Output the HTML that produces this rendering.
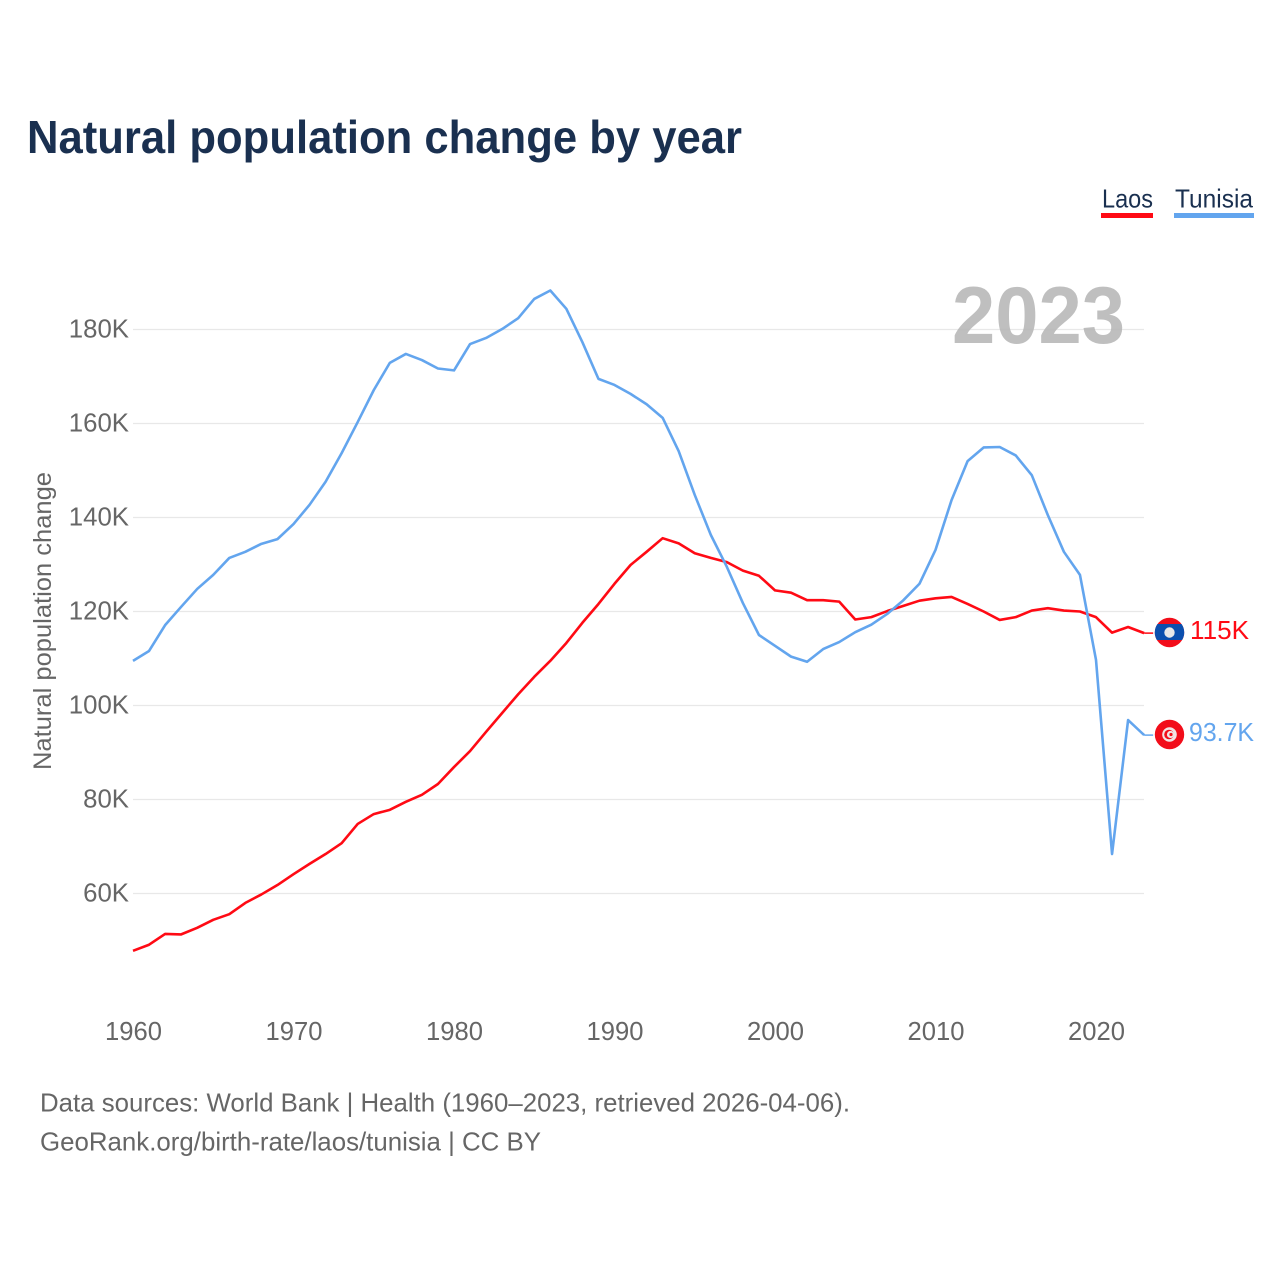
<!DOCTYPE html>
<html lang="en">
<head>
<meta charset="utf-8">
<title>Natural population change by year</title>
<style>
html,body{margin:0;padding:0;background:#fff;}
svg{display:block;}
text{font-family:"Liberation Sans",sans-serif;}
</style>
</head>
<body>
<svg id="chart" width="1280" height="1280" viewBox="0 0 1280 1280" xmlns="http://www.w3.org/2000/svg">
  <rect x="0" y="0" width="1280" height="1280" fill="#ffffff"/>
  <text x="27" y="153" font-size="46.5" font-weight="700" fill="#1a3050" textLength="715" lengthAdjust="spacingAndGlyphs">Natural population change by year</text>

  <g>
    <g>
      <text x="1102" y="207.5" font-size="26" fill="#1a3050" textLength="51" lengthAdjust="spacingAndGlyphs">Laos</text>
      <rect x="1101" y="213" width="52" height="5" fill="#ff0a14"/>
    </g>
    <g>
      <text x="1175" y="207.5" font-size="26" fill="#1a3050" textLength="78" lengthAdjust="spacingAndGlyphs">Tunisia</text>
      <rect x="1174" y="213" width="80" height="5" fill="#63a5ee"/>
    </g>
  </g>

  <g id="y-grid"></g>
  <g id="y-labels"></g>
  <g id="x-labels"></g>

  <text transform="translate(51 770) rotate(-90)" x="0" y="0" font-size="25" fill="#666666" textLength="298" lengthAdjust="spacingAndGlyphs">Natural population change</text>

  <text x="952" y="343" font-size="81" font-weight="700" fill="#b4b4b4" fill-opacity="0.85" textLength="173" lengthAdjust="spacingAndGlyphs">2023</text>

  <g id="series"></g>

  <g id="flag-laos">
    <circle cx="1169.5" cy="632.5" r="14.7" fill="#f20d1a"/>
    <path d="M1157.5 624 H1181.5 A14.7 14.7 0 0 1 1182.15 640 H1156.85 A14.7 14.7 0 0 1 1157.5 624 Z" fill="#0b4fae"/>
    <circle cx="1169.5" cy="632.5" r="5.2" fill="#e8e8e8"/>
  </g>
  <g id="flag-tunisia">
    <circle cx="1169.5" cy="734.5" r="14.7" fill="#f20d1a"/>
    <circle cx="1169.5" cy="734.5" r="7.3" fill="#f2e4e4"/>
    <circle cx="1169" cy="734.5" r="4.8" fill="#f20d1a"/>
    <circle cx="1170.5" cy="734.5" r="3.6" fill="#f2e4e4"/>
    <circle cx="1171" cy="734.5" r="1.6" fill="#f20d1a"/>
  </g>

  <text id="end-label-laos" x="1190" y="639" font-size="25.5" fill="#ff0a14" textLength="59" lengthAdjust="spacingAndGlyphs">115K</text>
  <text id="end-label-tunisia" x="1189" y="741" font-size="25.5" fill="#63a5ee" textLength="65" lengthAdjust="spacingAndGlyphs">93.7K</text>

  <text x="40" y="1111.5" font-size="26" fill="#666666" textLength="810" lengthAdjust="spacingAndGlyphs">Data sources: World Bank | Health (1960–2023, retrieved 2026-04-06).</text>
  <text x="40" y="1150.5" font-size="26" fill="#666666" textLength="501" lengthAdjust="spacingAndGlyphs">GeoRank.org/birth-rate/laos/tunisia | CC BY</text>
</svg>

<script>
var startYear = 1960;
var yTicks = [60, 80, 100, 120, 140, 160, 180];
var yTickLabels = ["60K", "80K", "100K", "120K", "140K", "160K", "180K"];
var xTicks = [1960, 1970, 1980, 1990, 2000, 2010, 2020];
var xTickLabels = ["1960", "1970", "1980", "1990", "2000", "2010", "2020"];
var laosValues = [47.8, 49.1, 51.4, 51.3, 52.7, 54.4, 55.6, 58.0, 59.8, 61.8,
  64.1, 66.3, 68.4, 70.7, 74.8, 76.9, 77.8, 79.5, 81.0, 83.3,
  86.9, 90.3, 94.4, 98.4, 102.4, 106.1, 109.5, 113.3, 117.6, 121.6,
  125.9, 129.9, 132.7, 135.6, 134.5, 132.4, 131.4, 130.5, 128.7, 127.6,
  124.5, 124.0, 122.4, 122.4, 122.1, 118.3, 118.8, 120.1, 121.2, 122.3,
  122.8, 123.1, 121.6, 120.0, 118.2, 118.8, 120.2, 120.7, 120.2, 120.0,
  118.8, 115.5, 116.7, 115.4];
var tunisiaValues = [109.5, 111.6, 117.1, 121.0, 124.8, 127.8, 131.4, 132.7, 134.4, 135.4,
  138.6, 142.7, 147.6, 153.7, 160.3, 167.1, 172.9, 174.8, 173.5, 171.7,
  171.3, 176.9, 178.2, 180.1, 182.4, 186.5, 188.3, 184.4, 177.3, 169.5,
  168.2, 166.3, 164.1, 161.2, 154.1, 144.8, 136.3, 129.5, 121.8, 115.0,
  112.7, 110.4, 109.3, 112.0, 113.5, 115.6, 117.2, 119.5, 122.4, 125.9,
  133.1, 143.7, 152.0, 154.9, 155.0, 153.2, 149.0, 140.5, 132.7, 127.8,
  109.7, 68.4, 96.9, 93.7];

var NS = "http://www.w3.org/2000/svg";
function xScale(year) { return 133 + (year - 1960) * 16.05; }
function yScale(value) { return 893.5 - (value - 60) * 4.7; }
function svgEl(tag) { return document.createElementNS(NS, tag); }

var gridGroup = document.getElementById("y-grid");
var yLabelGroup = document.getElementById("y-labels");
yTicks.forEach(function (tick, i) {
  var line = svgEl("line");
  
  
  line.setAttribute("x1", 133);
  line.setAttribute("x2", 1144);
  line.setAttribute("y1", yScale(tick));
  line.setAttribute("y2", yScale(tick));
  line.setAttribute("stroke", "#e8e8e8");
  line.setAttribute("stroke-width", "1.3");
  gridGroup.appendChild(line);

  var label = svgEl("text");
  
  
  label.setAttribute("x", 129);
  label.setAttribute("y", yScale(tick) + 8);
  label.setAttribute("text-anchor", "end");
  label.setAttribute("font-size", "25.8");
  label.setAttribute("fill", "#666666");
  label.textContent = yTickLabels[i];
  yLabelGroup.appendChild(label);
});

var xLabelGroup = document.getElementById("x-labels");
xTicks.forEach(function (tick, i) {
  var label = svgEl("text");
  
  
  label.setAttribute("x", xScale(tick) + 0.5);
  label.setAttribute("y", 1040);
  label.setAttribute("text-anchor", "middle");
  label.setAttribute("font-size", "25.6");
  label.setAttribute("fill", "#666666");
  label.textContent = xTickLabels[i];
  xLabelGroup.appendChild(label);
});

var seriesGroup = document.getElementById("series");
function pointsFor(values) {
  return values.map(function (v, i) {
    return xScale(startYear + i).toFixed(2) + "," + yScale(v).toFixed(2);
  }).join(" ");
}

var laosLine = svgEl("polyline");


laosLine.setAttribute("points", pointsFor(laosValues));
laosLine.setAttribute("fill", "none");
laosLine.setAttribute("stroke", "#ff0a14");
laosLine.setAttribute("stroke-width", "2.6");
laosLine.setAttribute("stroke-linejoin", "round");
seriesGroup.appendChild(laosLine);

var tunisiaLine = svgEl("polyline");


tunisiaLine.setAttribute("points", pointsFor(tunisiaValues));
tunisiaLine.setAttribute("fill", "none");
tunisiaLine.setAttribute("stroke", "#63a5ee");
tunisiaLine.setAttribute("stroke-width", "2.6");
tunisiaLine.setAttribute("stroke-linejoin", "round");
seriesGroup.appendChild(tunisiaLine);

var lastYear = startYear + laosValues.length - 1;

var laosConnector = svgEl("line");


laosConnector.setAttribute("x1", xScale(lastYear));
laosConnector.setAttribute("x2", xScale(lastYear) + 9);
laosConnector.setAttribute("y1", yScale(laosValues[laosValues.length - 1]));
laosConnector.setAttribute("y2", yScale(laosValues[laosValues.length - 1]));
laosConnector.setAttribute("stroke", "#ff0a14");
laosConnector.setAttribute("stroke-width", "1.5");
seriesGroup.appendChild(laosConnector);

var tunisiaConnector = svgEl("line");


tunisiaConnector.setAttribute("x1", xScale(lastYear));
tunisiaConnector.setAttribute("x2", xScale(lastYear) + 9);
tunisiaConnector.setAttribute("y1", yScale(tunisiaValues[tunisiaValues.length - 1]));
tunisiaConnector.setAttribute("y2", yScale(tunisiaValues[tunisiaValues.length - 1]));
tunisiaConnector.setAttribute("stroke", "#63a5ee");
tunisiaConnector.setAttribute("stroke-width", "1.5");
seriesGroup.appendChild(tunisiaConnector);
</script>
</body>
</html>
